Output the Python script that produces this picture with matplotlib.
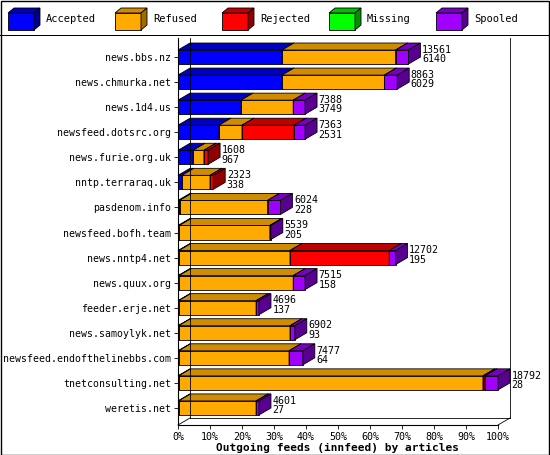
import matplotlib.pyplot as plt
from matplotlib.patches import Polygon, Rectangle

hosts = ['news.bbs.nz', 'news.chmurka.net', 'news.1d4.us', 'newsfeed.dotsrc.org',
         'news.furie.org.uk', 'nntp.terraraq.uk', 'pasdenom.info', 'newsfeed.bofh.team',
         'news.nntp4.net', 'news.quux.org', 'feeder.erje.net', 'news.samoylyk.net',
         'newsfeed.endofthelinebbs.com', 'tnetconsulting.net', 'weretis.net']
# percentages of offered articles
accepted = [32.5, 32.5, 19.7, 12.8, 4.7, 1.2, 0.5, 0.4, 0.3, 0.3, 0.2, 0.2, 0.2, 0.2, 0.2]
refused  = [35.5, 32.0, 16.3, 7.2, 3.4, 8.8, 27.5, 28.3, 34.7, 35.7, 24.2, 34.8, 34.5, 95.1, 24.2]
rejected = [0, 0, 0, 16.3, 1.3, 1.0, 0, 0, 31.0, 0, 0, 0, 0, 0.6, 0]
missing  = [0] * 15
spooled  = [4.0, 4.0, 3.7, 3.4, 0, 0, 4.0, 0.3, 2.0, 3.7, 0.9, 1.5, 4.3, 4.1, 0.9]
offered  = [13561, 8863, 7388, 7363, 1608, 2323, 6024, 5539, 12702, 7515, 4696, 6902, 7477, 18792, 4601]
accepted_n = [6140, 6029, 3749, 2531, 967, 338, 228, 205, 195, 158, 137, 93, 64, 28, 27]

names = ['Accepted', 'Refused', 'Rejected', 'Missing', 'Spooled']
series = [accepted, refused, rejected, missing, spooled]
front = ['#0000ff', '#ffaa00', '#ff0000', '#00ff00', '#a000ff']
top = ['#0000c0', '#d08c00', '#c00000', '#00c000', '#7800c0']
side = ['#000090', '#a06c00', '#900000', '#009000', '#580090']

dx, dy = 3.75, 0.28
h = 0.56

fig = plt.figure(figsize=(5.5, 4.55), dpi=100)
fig.patch.set_facecolor('white')
ax = fig.add_axes([178/550, 1-425/455, 320/550, 387/455])
ax.set_xlim(0, 100)
ax.set_ylim(14.68, -0.76)
for s in ax.spines.values():
    s.set_visible(False)

def box(x0, x1, y, fc, tc, sc):
    yt, yb = y - h/2, y + h/2
    ax.add_patch(Polygon([(x0, yb), (x1, yb), (x1, yt), (x0, yt)], fc=fc, ec='black', lw=0.6, clip_on=False))
    ax.add_patch(Polygon([(x0, yt), (x1, yt), (x1+dx, yt-dy), (x0+dx, yt-dy)], fc=tc, ec='black', lw=0.6, clip_on=False))
    ax.add_patch(Polygon([(x1, yb), (x1, yt), (x1+dx, yt-dy), (x1+dx, yb-dy)], fc=sc, ec='black', lw=0.6, clip_on=False))

# frame / back walls
ax.plot([0, 0], [14.68, -0.76], color='black', lw=0.8, clip_on=False)
ax.plot([0, 100], [14.68, 14.68], color='black', lw=0.8, clip_on=False)
ax.plot([dx, dx], [14.68 - dy, -0.76], color='black', lw=0.6, clip_on=False)
ax.plot([dx, 100+dx], [14.68 - dy, 14.68 - dy], color='black', lw=0.6, clip_on=False)
ax.plot([100+dx, 100+dx], [14.68 - dy, -0.76], color='black', lw=0.6, clip_on=False)
ax.plot([0, dx], [14.68, 14.68 - dy], color='black', lw=0.6, clip_on=False)
ax.plot([100, 100+dx], [14.68, 14.68 - dy], color='black', lw=0.6, clip_on=False)

for i in range(len(hosts)):
    x = 0
    for k, s in enumerate(series):
        v = s[i]
        if v > 0:
            box(x, x + v, i, front[k], top[k], side[k])
            x += v
    ax.text(x + dx + 0.5, i - 0.1, f'{offered[i]}\n{accepted_n[i]}', fontsize=7.2,
            family='DejaVu Sans Mono', va='center', ha='left', linespacing=0.95)

ax.set_yticks(range(len(hosts)))
ax.set_yticklabels(hosts, family='DejaVu Sans Mono', fontsize=7.1)
ax.set_xticks(range(0, 101, 10))
ax.set_xticklabels([f'{t}%' for t in range(0, 101, 10)], family='DejaVu Sans Mono', fontsize=7.2)
ax.tick_params(length=3, width=0.6, pad=2)
ax.set_xlabel('Outgoing feeds (innfeed) by articles', family='DejaVu Sans Mono',
              fontsize=8, fontweight='bold', labelpad=1)

# legend
lx = [8, 115, 222, 329, 436]
for k, n in enumerate(names):
    x0, y0 = lx[k] / 550, 1 - 30 / 455
    w, hh = 26 / 550, 17 / 455
    ox, oy = 6 / 550, 5 / 455
    fig.patches.append(Polygon([(x0, y0), (x0+w, y0), (x0+w, y0+hh), (x0, y0+hh)], fc=front[k], ec='black', lw=0.6, transform=fig.transFigure))
    fig.patches.append(Polygon([(x0, y0+hh), (x0+w, y0+hh), (x0+w+ox, y0+hh+oy), (x0+ox, y0+hh+oy)], fc=top[k], ec='black', lw=0.6, transform=fig.transFigure))
    fig.patches.append(Polygon([(x0+w, y0), (x0+w, y0+hh), (x0+w+ox, y0+hh+oy), (x0+w+ox, y0+oy)], fc=side[k], ec='black', lw=0.6, transform=fig.transFigure))
    fig.text(x0 + w + ox + 6/550, y0 + hh/2 + 2/455, n, family='DejaVu Sans Mono', fontsize=7.5, va='center')
fig.patches.append(Rectangle((0, 1 - 36/455), 1, 0.002, fc='black', transform=fig.transFigure))
fig.patches.append(Rectangle((0.001, 0.001), 0.997, 0.997, fc='none', ec='black', lw=1, transform=fig.transFigure))

fig.savefig('out.png', dpi=100)
